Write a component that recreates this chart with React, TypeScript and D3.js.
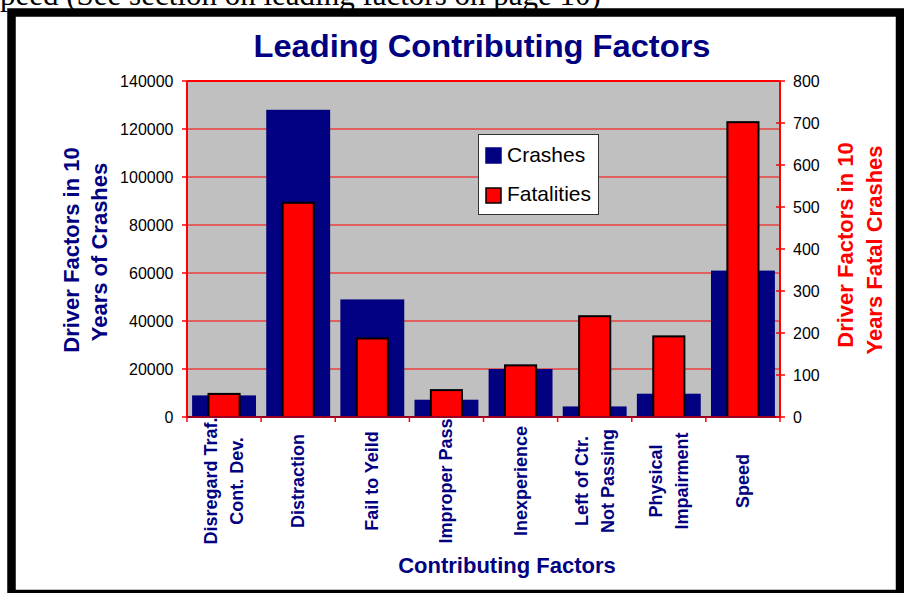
import React from 'react';
import * as d3 from 'd3';

const categories = [
  'Disregard Traf.\nCont. Dev.',
  'Distraction',
  'Fail to Yeild',
  'Improper Pass',
  'Inexperience',
  'Left of Ctr.\nNot Passing',
  'Physical\nImpairment',
  'Speed',
];
const crashes = [9000, 128000, 49000, 7200, 20000, 4400, 9700, 61000];
const fatalities = [55, 510, 187, 64, 123, 240, 192, 702];
const leftTicks = [0, 20000, 40000, 60000, 80000, 100000, 120000, 140000];
const rightTicks = [0, 100, 200, 300, 400, 500, 600, 700, 800];
const seriesNames = ['Crashes', 'Fatalities'];

const W = 904;
const H = 593;
const PL = 187;
const PR = 780;
const PT = 81;
const PB = 417;
const NAVY = '#000080';
const RED = '#FF0000';
const SANS = '"Liberation Sans", Arial, sans-serif';

export default function App() {
  const x = d3.scaleBand<string>().domain(categories).range([PL, PR]).padding(0);
  const yL = d3.scaleLinear().domain([0, 140000]).range([PB, PT]);
  const yR = d3.scaleLinear().domain([0, 800]).range([PB, PT]);
  const step = x.bandwidth();
  const wideW = step * 0.862;
  const narrowW = step * 0.42;

  return (
    <svg
      width={W}
      height={H}
      style={{ position: 'fixed', left: 0, top: 0, background: '#fff' }}
      fontFamily={SANS}
    >
      <rect x={0} y={0} width={W} height={H} fill="#fff" />
      {/* cut-off text above the frame */}
      <text x={0} y={5} fontFamily='"Liberation Serif", "Times New Roman", serif' fontSize={31} fill="#000">
        peed (See section on leading factors on page 10)
      </text>
      {/* frame */}
      <rect x={11.5} y={12.5} width={888.5} height={581.5} fill="none" stroke="#000" strokeWidth={8.5} />

      {/* title */}
      <text x={482} y={57} textAnchor="middle" fontSize={32} fontWeight="bold" fill={NAVY} textLength={457} lengthAdjust="spacingAndGlyphs">
        Leading Contributing Factors
      </text>

      {/* plot area */}
      <rect x={PL} y={PT} width={PR - PL} height={PB - PT} fill="#C0C0C0" />
      {leftTicks.map((t) => (
        <line key={'g' + t} x1={PL} x2={PR} y1={yL(t)} y2={yL(t)} stroke={RED} strokeWidth={1} />
      ))}

      {/* bars */}
      {categories.map((c, i) => (
        <rect
          key={'c' + i}
          x={x(c)! + (step - wideW) / 2}
          y={yL(crashes[i])}
          width={wideW}
          height={PB - yL(crashes[i])}
          fill={NAVY}
        />
      ))}
      {categories.map((c, i) => (
        <rect
          key={'f' + i}
          x={x(c)! + (step - narrowW) / 2}
          y={yR(fatalities[i])}
          width={narrowW}
          height={PB - yR(fatalities[i])}
          fill={RED}
          stroke="#000"
          strokeWidth={2}
        />
      ))}

      {/* plot border / axes */}
      <line x1={PL} x2={PR} y1={PT} y2={PT} stroke={RED} strokeWidth={2} />
      <line x1={PL} x2={PL} y1={PT} y2={PB} stroke={RED} strokeWidth={2} />
      <line x1={PR} x2={PR} y1={PT} y2={PB + 1} stroke={RED} strokeWidth={2} />
      <line x1={PL} x2={PR} y1={PB} y2={PB} stroke="#990022" strokeWidth={2} />

      {/* left axis */}
      {leftTicks.map((t) => (
        <g key={'l' + t}>
          <line x1={PL - 5} x2={PL} y1={yL(t)} y2={yL(t)} stroke={RED} strokeWidth={1.5} />
          <text x={173.5} y={yL(t)} dy="0.35em" textAnchor="end" fontSize={16} fill="#000">
            {t}
          </text>
        </g>
      ))}
      {/* right axis */}
      {rightTicks.map((t) => (
        <g key={'r' + t}>
          <line x1={PR - 4} x2={PR + 5} y1={yR(t)} y2={yR(t)} stroke={RED} strokeWidth={1.5} />
          <text x={793} y={yR(t)} dy="0.35em" textAnchor="start" fontSize={16} fill="#000">
            {t}
          </text>
        </g>
      ))}
      {/* x axis ticks */}
      {categories.map((c, i) => (
        <line key={'xt' + i} x1={x(c)!} x2={x(c)!} y1={PB} y2={PB + 5} stroke={RED} strokeWidth={1.5} />
      ))}
      <line x1={PR} x2={PR} y1={PB} y2={PB + 5} stroke={RED} strokeWidth={1.5} />

      {/* x labels */}
      {categories.map((c) => {
        const lines = c.split('\n');
        const cx = x(c)! + step / 2;
        const gap = 26;
        return (
          <g key={'xl' + c}>
            {lines.map((ln, j) => {
              const bx = cx + 6 + (j - (lines.length - 1) / 2) * gap;
              return (
                <text
                  key={j}
                  transform={`translate(${bx},481) rotate(-90)`}
                  textAnchor="middle"
                  fontSize={18}
                  fontWeight="bold"
                  fill={NAVY}
                >
                  {ln}
                </text>
              );
            })}
          </g>
        );
      })}

      {/* x title */}
      <text x={507} y={573} textAnchor="middle" fontSize={22} fontWeight="bold" fill={NAVY}>
        Contributing Factors
      </text>

      {/* left title */}
      <text transform="translate(79,250) rotate(-90)" textAnchor="middle" fontSize={22} fontWeight="bold" fill={NAVY}>
        Driver Factors in 10
      </text>
      <text transform="translate(107,252) rotate(-90)" textAnchor="middle" fontSize={22} fontWeight="bold" fill={NAVY}>
        Years of Crashes
      </text>
      {/* right title */}
      <text transform="translate(853,245) rotate(-90)" textAnchor="middle" fontSize={22} fontWeight="bold" fill={RED}>
        Driver Factors in 10
      </text>
      <text transform="translate(882,250) rotate(-90)" textAnchor="middle" fontSize={22} fontWeight="bold" fill={RED}>
        Years Fatal Crashes
      </text>

      {/* legend */}
      <rect x={478.5} y={134.5} width={120} height={80} fill="#fff" stroke="#333" strokeWidth={1} />
      {seriesNames.map((s, i) => (
        <g key={s}>
          <rect
            x={486}
            y={148 + i * 40}
            width={15}
            height={15}
            fill={i === 0 ? NAVY : RED}
            stroke={i === 0 ? NAVY : '#000'}
            strokeWidth={1.5}
          />
          <text x={507} y={162 + i * 39} fontSize={21} fill="#000">
            {s}
          </text>
        </g>
      ))}
    </svg>
  );
}
